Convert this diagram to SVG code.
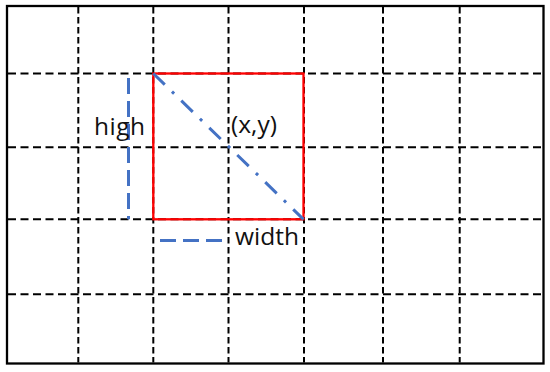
<svg xmlns="http://www.w3.org/2000/svg" width="550" height="372" viewBox="0 0 550 372">
  <style>
    .grid-h { stroke: #000; stroke-width: 2; stroke-dasharray: 8 4.5; fill: none; }
    .grid-v { stroke: #000; stroke-width: 2; stroke-dasharray: 6.5 3.5; fill: none; }
    .border { stroke: #000; stroke-width: 2.3; fill: #fff; }
    .dim { stroke: #4472C4; stroke-width: 3; stroke-dasharray: 16 7; fill: none; }
    .diag { stroke: #4472C4; stroke-width: 3; stroke-dasharray: 16 10 3 10; fill: none; }
    .box { stroke: #FF0000; stroke-width: 2.3; fill: none; }
    .label { font-family: "Open Sans", "Noto Sans", "DejaVu Sans", sans-serif; font-size: 24.5px; fill: #111; }
  </style>
  <rect id="frame" class="border" x="7" y="6" width="536.5" height="357.5"/>
  <g id="grid">
    <line class="grid-v" x1="78.3" y1="7" x2="78.3" y2="362.5"/>
    <line class="grid-v" x1="153.3" y1="7" x2="153.3" y2="362.5"/>
    <line class="grid-v" x1="228.5" y1="7" x2="228.5" y2="362.5"/>
    <line class="grid-v" x1="304" y1="7" x2="304" y2="362.5"/>
    <line class="grid-v" x1="383" y1="7" x2="383" y2="362.5"/>
    <line class="grid-v" x1="459.7" y1="7" x2="459.7" y2="362.5"/>
    <line class="grid-h" x1="8" y1="73.5" x2="542.5" y2="73.5"/>
    <line class="grid-h" x1="8" y1="147.3" x2="542.5" y2="147.3"/>
    <line class="grid-h" x1="8" y1="219.3" x2="542.5" y2="219.3"/>
    <line class="grid-h" x1="8" y1="294.3" x2="542.5" y2="294.3"/>
  </g>
  <g id="box">
    <rect class="box" x="153.3" y="73.5" width="150.2" height="145.8"/>
  </g>
  <g id="connectors">
    <line id="diagonal" class="diag" x1="153.3" y1="73.5" x2="303.5" y2="219.3"/>
    <line id="high-dim" class="dim" x1="128.5" y1="78" x2="128.5" y2="219.3"/>
    <line id="width-dim" class="dim" x1="160" y1="240.5" x2="222" y2="240.5"/>
  </g>
  <g id="label-high"><text class="label" x="94" y="135" textLength="51">high</text></g>
  <g id="label-xy"><text class="label" x="231" y="133">(x,y)</text></g>
  <g id="label-width"><text class="label" x="235" y="245">width</text></g>
</svg>
